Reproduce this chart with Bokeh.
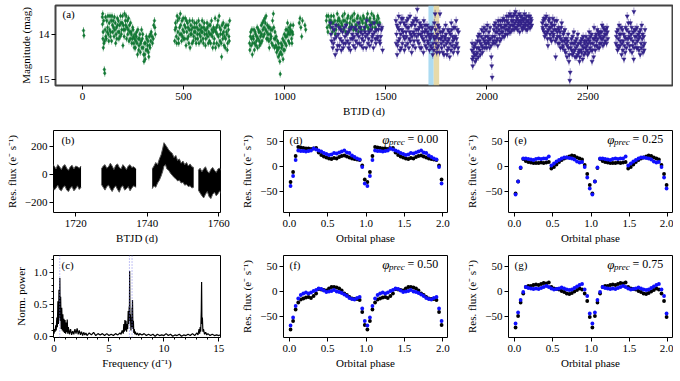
from bokeh.plotting import figure
from bokeh.layouts import column, row
from bokeh.models import Range1d, FixedTicker, CustomJSTickFormatter, Label, BoxAnnotation, Span
from bokeh.embed import file_html
from bokeh.resources import INLINE

FONT = "Liberation Serif, serif"
FS = "11px"

# ---------------- panel (a): long-term light curve (BTJD, mag) ----------------
GREEN_PTS = [
    (5, 13.92), (7, 14.03),
    (98, 13.62), (99, 13.78), (100, 13.55), (101, 14.1), (103, 14.3), (106, 14.2), (108, 14.78), (110, 14.86),
    (112, 13.9), (115, 14.05), (120, 13.7), (124, 13.85), (128, 14.0), (132, 13.75), (136, 13.6), (140, 13.95),
    (144, 14.15), (148, 13.8), (152, 13.7), (156, 14.05), (160, 13.9), (164, 14.2), (168, 13.85), (172, 13.65),
    (176, 13.95), (180, 14.1), (184, 13.8), (188, 13.6), (192, 14.0), (196, 13.75), (200, 14.25), (204, 13.9),
    (208, 13.55), (212, 13.7), (216, 13.6), (220, 13.85), (224, 14.0), (228, 13.65), (232, 13.8), (236, 14.1),
    (240, 13.95), (244, 14.2), (248, 13.85), (252, 14.05), (256, 14.3), (260, 14.0), (264, 14.15), (268, 13.95),
    (272, 14.45), (276, 14.1), (280, 14.25), (284, 14.0), (288, 14.2), (292, 13.9), (296, 14.1), (300, 14.3),
    (304, 14.6), (308, 14.45), (312, 14.2), (316, 14.05), (320, 14.35), (324, 14.15), (328, 14.5), (332, 14.25),
    (336, 14.0), (340, 13.95), (346, 14.2), (352, 13.8), (356, 13.7), (360, 14.0),
    (456, 14.15), (458, 13.9), (460, 13.75), (464, 14.05), (468, 13.6), (472, 13.95), (476, 14.2), (480, 13.85),
    (484, 13.55), (488, 14.0), (492, 13.7), (496, 13.9), (500, 14.1), (504, 13.8), (508, 13.65), (512, 14.25),
    (516, 13.95), (520, 13.75), (524, 14.05), (528, 13.9), (532, 14.3), (536, 13.8), (540, 14.0), (544, 13.7),
    (548, 14.15), (552, 13.95), (556, 13.85), (560, 14.1), (564, 13.75), (568, 14.0), (572, 13.9), (576, 14.2),
    (580, 13.8), (584, 14.05), (588, 13.95), (592, 13.7), (596, 14.1), (600, 13.85), (604, 14.0), (608, 14.25),
    (612, 13.9), (616, 13.75), (620, 14.05), (624, 13.95), (628, 14.15), (632, 13.8), (636, 14.0), (640, 13.9),
    (644, 14.3), (648, 13.85), (652, 14.1), (656, 13.65), (660, 13.95), (664, 14.2), (668, 13.8), (672, 14.05),
    (676, 13.6), (680, 14.15), (684, 13.9), (688, 14.5), (692, 14.0), (696, 13.75), (700, 14.25), (704, 13.85),
    (708, 14.1), (712, 13.95), (716, 14.35), (720, 13.8), (724, 14.05), (728, 13.7),
    (826, 14.2), (828, 14.35), (832, 13.95), (836, 14.1), (840, 14.45), (844, 14.05), (848, 13.9), (852, 14.2),
    (856, 14.0), (860, 14.15), (864, 13.85), (868, 14.1), (872, 13.95), (876, 14.25), (880, 14.05), (884, 13.8),
    (888, 14.15), (892, 13.9), (896, 13.7), (900, 14.0), (904, 13.75), (908, 13.6), (912, 13.95), (916, 14.1),
    (920, 13.85), (924, 14.3), (928, 14.0), (932, 13.9), (936, 14.2), (940, 13.7), (944, 13.55), (948, 14.1),
    (952, 13.95), (956, 14.25), (960, 14.4), (964, 14.15), (968, 14.5), (972, 14.3), (976, 14.6), (978, 14.88),
    (982, 14.2), (986, 14.45), (990, 14.1), (994, 14.35), (998, 14.0), (1002, 14.2), (1006, 13.9), (1010, 14.05),
    (1014, 13.75), (1018, 14.15), (1022, 13.85), (1026, 14.0), (1030, 13.8), (1034, 14.1), (1038, 13.95), (1042, 13.8),
    (1072, 13.75), (1076, 13.65), (1080, 13.85), (1084, 14.05), (1088, 13.7), (1100, 13.8), (1104, 13.9),
    (1206, 13.7), (1210, 13.85), (1216, 13.6), (1222, 13.7), (1226, 13.85), (1230, 13.6), (1236, 13.95),
    (1240, 13.75), (1246, 13.9), (1250, 14.0), (1256, 13.8), (1262, 13.7), (1268, 13.65), (1274, 13.85),
    (1280, 13.75), (1286, 13.6), (1292, 13.9), (1298, 13.7), (1304, 13.8), (1310, 13.65), (1316, 13.95),
    (1322, 13.75), (1328, 13.85), (1334, 13.6), (1340, 13.9), (1346, 13.7), (1352, 13.8), (1358, 13.65),
    (1364, 13.95), (1370, 13.75), (1376, 13.85), (1382, 13.7), (1388, 13.6), (1394, 13.9), (1400, 13.75),
    (1406, 13.65), (1412, 13.85), (1418, 13.7), (1424, 13.8), (1430, 13.55), (1436, 13.75), (1442, 13.65),
    (1448, 13.85), (1454, 13.7), (1460, 13.6), (1466, 13.8),
]
GREEN_PTS_MORE = [
    (102, 13.95), (105, 13.7), (110, 14.15), (114, 13.62), (118, 14.1), (122, 13.95), (126, 13.6), (130, 14.15),
    (134, 13.9), (138, 14.05), (142, 13.7), (146, 13.6), (150, 13.95), (154, 13.85), (158, 13.62), (162, 13.75),
    (166, 14.0), (170, 14.1), (174, 13.8), (178, 13.7), (182, 13.95), (186, 14.05), (190, 13.75), (194, 13.9),
    (198, 13.6), (202, 13.8), (206, 14.05), (210, 13.9), (214, 13.8), (218, 14.1), (222, 13.7), (226, 13.9),
    (230, 14.15), (234, 13.95), (238, 13.75), (242, 14.0), (246, 14.1), (250, 13.9), (254, 14.2), (258, 14.1),
    (262, 14.3), (266, 14.05), (270, 14.2), (274, 13.9), (278, 14.35), (282, 14.1), (286, 14.4), (290, 14.15),
    (294, 14.3), (298, 14.0), (302, 14.45), (306, 14.2), (310, 14.55), (314, 14.35), (318, 14.1), (322, 14.25),
    (326, 14.4), (330, 14.05), (334, 14.3), (338, 14.15), (344, 14.05), (350, 14.1), (358, 13.85),
    (462, 13.85), (466, 14.2), (470, 13.7), (474, 14.1), (478, 13.65), (482, 14.0), (486, 13.8), (490, 14.15),
    (494, 14.05), (498, 13.65), (502, 13.95), (506, 14.1), (510, 13.85), (514, 13.7), (518, 14.1), (522, 13.85),
    (526, 14.2), (530, 13.7), (534, 14.0), (538, 13.9), (542, 14.2), (546, 13.85), (550, 14.05), (554, 13.75),
    (558, 13.95), (562, 14.2), (566, 13.85), (570, 14.1), (574, 13.7), (578, 14.0), (582, 13.9), (586, 14.15),
    (590, 13.85), (594, 13.95), (598, 14.2), (602, 13.75), (606, 13.9), (610, 14.1), (614, 14.0), (618, 13.85),
    (622, 14.2), (626, 13.8), (630, 14.0), (634, 14.2), (638, 13.7), (642, 14.05), (646, 13.95), (650, 14.2),
    (654, 13.9), (658, 14.3), (662, 13.85), (666, 14.0), (670, 13.7), (674, 14.25), (678, 13.85), (682, 14.0),
    (686, 14.2), (690, 13.8), (694, 14.1), (698, 13.95), (702, 14.05), (706, 14.3), (710, 13.8), (714, 14.0),
    (718, 14.2), (722, 13.9), (726, 14.15),
    (830, 14.05), (834, 14.25), (838, 13.9), (842, 14.2), (846, 14.1), (850, 14.35), (854, 13.95), (858, 14.25),
    (862, 14.05), (866, 14.3), (870, 13.9), (874, 14.15), (878, 13.95), (882, 14.2), (886, 14.0), (890, 13.75),
    (894, 14.05), (898, 13.85), (902, 13.65), (906, 13.9), (910, 14.1), (914, 13.8), (918, 14.0), (922, 14.15),
    (926, 13.85), (930, 14.1), (934, 14.05), (938, 13.9), (942, 14.25), (946, 13.85), (950, 14.3), (954, 14.1),
    (958, 14.05), (962, 14.3), (966, 14.35), (970, 14.2), (974, 14.45), (980, 14.4), (984, 14.3), (988, 14.25),
    (992, 14.55), (996, 14.15), (1000, 14.35), (1004, 14.05), (1008, 14.25), (1012, 13.9), (1016, 14.0),
    (1020, 13.95), (1024, 14.2), (1028, 13.9), (1032, 13.95), (1036, 14.2), (1040, 14.0),
    (1208, 13.6), (1214, 13.95), (1220, 13.8), (1228, 13.7), (1234, 13.75), (1242, 13.6), (1248, 13.7),
    (1254, 13.9), (1260, 13.55), (1266, 13.8), (1272, 13.7), (1278, 13.9), (1284, 13.8), (1290, 13.7),
    (1296, 13.55), (1302, 13.95), (1308, 13.75), (1314, 13.6), (1320, 13.85), (1326, 13.65), (1332, 13.8),
    (1338, 13.7), (1344, 13.55), (1350, 13.9), (1356, 13.8), (1362, 13.6), (1368, 13.85), (1374, 13.65),
    (1380, 13.9), (1386, 13.75), (1392, 13.65), (1398, 13.85), (1404, 13.8), (1410, 13.55), (1416, 13.9),
    (1422, 13.65), (1428, 13.75), (1434, 13.85), (1440, 13.6), (1446, 13.75), (1452, 13.9), (1458, 13.75),
    (1464, 13.65), (1470, 13.75),
]

INDIGO_PTS = [
    (1226, 13.75), (1232, 14.15), (1238, 14.3), (1244, 13.9), (1250, 14.45), (1256, 14.05), (1262, 14.25),
    (1268, 13.85), (1274, 14.1), (1280, 14.35), (1286, 13.95), (1292, 14.2), (1298, 14.05), (1304, 13.8),
    (1310, 14.15), (1316, 14.3), (1322, 13.9), (1328, 14.1), (1334, 14.0), (1340, 14.25), (1346, 13.85),
    (1352, 14.15), (1358, 14.0), (1364, 13.75), (1370, 14.2), (1376, 13.95), (1382, 14.1), (1388, 14.3),
    (1394, 13.85), (1400, 14.05), (1406, 13.7), (1412, 14.2), (1418, 13.95), (1424, 13.8), (1430, 14.15),
    (1436, 14.0), (1442, 13.75), (1448, 14.1), (1454, 13.9), (1460, 14.05), (1466, 13.8), (1472, 14.2),
    (1478, 13.9), (1484, 14.35),
    (1550, 13.7), (1553, 14.0), (1556, 14.45), (1560, 13.85), (1564, 13.6), (1568, 14.1), (1572, 13.75),
    (1576, 14.3), (1580, 13.9), (1584, 13.65), (1588, 14.05), (1592, 14.35), (1596, 13.8), (1600, 13.95),
    (1604, 13.7), (1608, 14.2), (1612, 13.85), (1616, 14.1), (1620, 13.6), (1624, 14.0), (1628, 14.4),
    (1632, 13.75), (1636, 13.95), (1640, 14.15), (1644, 13.8), (1648, 13.65), (1652, 14.05), (1656, 13.45),
    (1660, 13.9), (1664, 14.2), (1668, 13.75), (1672, 14.0), (1676, 14.3), (1680, 13.85), (1684, 14.1),
    (1688, 13.7), (1692, 13.95), (1696, 14.25), (1700, 14.05), (1704, 13.8), (1708, 14.15), (1712, 14.0),
    (1716, 14.35), (1720, 14.1), (1724, 13.9), (1728, 14.3), (1732, 14.45), (1736, 14.05), (1740, 13.75),
    (1744, 13.55), (1748, 14.2), (1752, 14.4), (1756, 14.0), (1760, 14.25), (1764, 13.85), (1768, 13.55),
    (1772, 14.1), (1776, 14.3), (1780, 13.95), (1784, 14.15), (1788, 14.45), (1792, 14.05), (1796, 13.8),
    (1800, 14.2), (1804, 14.35), (1808, 13.9), (1812, 14.1), (1816, 14.5), (1820, 14.0), (1824, 13.75),
    (1828, 14.25), (1832, 14.15), (1836, 13.85), (1840, 14.3), (1844, 14.05), (1848, 13.7), (1852, 14.2),
    (1856, 14.4), (1860, 13.95),
    (1926, 14.35), (1928, 14.55), (1930, 14.7), (1934, 14.4), (1938, 14.25), (1942, 14.6), (1946, 14.45),
    (1950, 14.3), (1954, 14.15), (1958, 14.5), (1962, 14.0), (1966, 14.35), (1970, 14.2), (1974, 13.9),
    (1978, 14.4), (1982, 14.1), (1986, 13.85), (1990, 14.3), (1994, 14.05), (1998, 14.2), (2002, 13.8),
    (2006, 14.15), (2010, 13.95), (2014, 14.3), (2018, 14.1), (2022, 14.5), (2026, 14.95), (2030, 14.2),
    (2034, 13.9), (2038, 14.05), (2042, 13.75), (2046, 14.15), (2050, 13.95), (2054, 14.25), (2058, 13.8),
    (2062, 14.0), (2066, 13.7), (2070, 14.1), (2074, 13.85), (2078, 13.95), (2082, 13.65), (2086, 14.05),
    (2090, 13.8), (2094, 13.9), (2098, 13.6), (2102, 14.0), (2106, 13.75), (2110, 13.85), (2114, 13.55),
    (2118, 13.95), (2122, 13.7), (2126, 13.8), (2130, 13.6), (2134, 13.9), (2138, 13.75), (2142, 13.5),
    (2146, 13.85), (2150, 13.65), (2154, 13.8), (2158, 13.7), (2162, 13.95), (2166, 13.6), (2170, 13.75),
    (2174, 13.85), (2178, 13.65), (2182, 13.8), (2186, 13.55), (2190, 13.75), (2194, 13.9), (2198, 13.7),
    (2202, 13.8), (2206, 13.6), (2210, 13.85), (2214, 13.75), (2218, 13.65), (2222, 13.8),
    (2274, 13.75), (2278, 13.9), (2282, 13.65), (2286, 14.05), (2290, 13.8), (2294, 13.6), (2298, 13.95),
    (2302, 14.25), (2306, 13.7), (2310, 13.85), (2314, 14.1), (2318, 13.75), (2322, 13.95), (2326, 13.65),
    (2330, 14.0), (2334, 13.8), (2338, 14.15), (2340, 14.5), (2342, 13.9), (2346, 13.7), (2350, 14.05),
    (2354, 13.85), (2358, 14.2), (2362, 13.95), (2366, 14.1), (2370, 13.75), (2374, 14.3), (2378, 14.0),
    (2382, 14.15), (2386, 13.9), (2390, 14.4), (2394, 14.1), (2398, 14.25), (2402, 14.0), (2406, 14.6),
    (2410, 15.02), (2412, 14.84), (2414, 14.3), (2418, 14.1), (2422, 14.45), (2426, 14.2), (2430, 13.95),
    (2434, 14.35), (2438, 14.15), (2442, 14.5), (2446, 14.25), (2450, 14.0), (2454, 14.4), (2458, 14.6),
    (2462, 14.2), (2466, 14.35), (2470, 14.1), (2474, 14.55), (2478, 14.3), (2482, 14.15), (2486, 14.4),
    (2490, 14.05), (2494, 14.25), (2498, 14.45), (2502, 14.1), (2506, 13.95), (2510, 14.3), (2514, 14.2),
    (2518, 14.0), (2520, 14.6), (2522, 14.35), (2526, 14.1), (2528, 14.5), (2530, 13.85), (2534, 14.25),
    (2538, 14.05), (2542, 14.15), (2546, 13.9), (2550, 14.3), (2554, 14.0), (2558, 14.2), (2562, 13.95),
    (2566, 14.1), (2570, 13.8), (2574, 14.25), (2578, 14.05), (2582, 13.9), (2586, 14.15), (2590, 14.0),
    (2594, 13.85), (2598, 14.1),
    (2638, 14.2), (2642, 13.95), (2646, 14.35), (2650, 14.1), (2654, 13.8), (2658, 14.25), (2662, 14.0),
    (2666, 14.45), (2670, 13.9), (2674, 14.15), (2678, 14.55), (2682, 14.05), (2686, 13.85), (2690, 14.3),
    (2694, 13.6), (2698, 14.1), (2702, 13.95), (2706, 14.25), (2710, 13.75), (2714, 14.0), (2718, 14.4),
    (2722, 14.15), (2726, 14.55), (2727, 13.5), (2730, 13.9), (2734, 14.2), (2738, 14.05), (2742, 13.85),
    (2746, 14.3), (2750, 14.1), (2754, 13.95), (2758, 14.45), (2762, 14.2), (2766, 13.8), (2770, 14.0),
    (2774, 14.25), (2778, 14.35), (2782, 13.9),
]
INDIGO_PTS_MORE = [
    (1229, 14.0), (1235, 13.85), (1241, 14.2), (1247, 14.1), (1253, 13.8), (1259, 14.35), (1265, 14.0),
    (1271, 14.25), (1277, 13.9), (1283, 14.15), (1289, 14.3), (1295, 13.85), (1301, 14.2), (1307, 14.0),
    (1313, 13.95), (1319, 14.2), (1325, 14.35), (1331, 13.85), (1337, 14.1), (1343, 14.05), (1349, 14.3),
    (1355, 13.9), (1361, 14.2), (1367, 14.05), (1373, 13.85), (1379, 14.25), (1385, 14.0), (1391, 14.15),
    (1397, 13.95), (1403, 14.3), (1409, 14.0), (1415, 14.1), (1421, 14.25), (1427, 13.9), (1433, 14.05),
    (1439, 14.3), (1445, 13.95), (1451, 14.2), (1457, 14.1), (1463, 13.9), (1469, 14.15), (1475, 14.05),
    (1481, 13.85),
    (1551, 14.2), (1555, 13.8), (1558, 14.25), (1562, 14.15), (1566, 13.9), (1570, 14.35), (1574, 14.0),
    (1578, 13.65), (1582, 14.2), (1586, 13.95), (1590, 13.75), (1594, 14.1), (1598, 14.25), (1602, 14.05),
    (1606, 13.85), (1610, 13.65), (1614, 14.3), (1618, 13.95), (1622, 14.15), (1626, 13.8), (1630, 14.05),
    (1634, 14.25), (1638, 13.7), (1642, 14.0), (1646, 14.3), (1650, 13.9), (1654, 13.7), (1658, 14.15),
    (1662, 14.0), (1666, 13.85), (1670, 14.3), (1674, 13.8), (1678, 14.05), (1682, 13.95), (1686, 14.4),
    (1690, 14.15), (1694, 13.8), (1698, 13.9), (1702, 14.3), (1706, 13.95), (1710, 14.2), (1714, 13.85),
    (1718, 14.05), (1722, 14.25), (1726, 14.0), (1730, 13.85), (1734, 14.2), (1738, 14.35), (1742, 14.1),
    (1746, 13.9), (1750, 14.05), (1754, 14.3), (1758, 13.8), (1762, 14.1), (1766, 14.4), (1770, 13.95),
    (1774, 14.2), (1778, 14.05), (1782, 14.4), (1786, 13.9), (1790, 14.25), (1794, 14.1), (1798, 14.0),
    (1802, 14.45), (1806, 14.15), (1810, 14.3), (1814, 13.95), (1818, 14.2), (1822, 14.35), (1826, 13.9),
    (1830, 14.05), (1834, 14.4), (1838, 14.1), (1842, 13.85), (1846, 14.25), (1850, 14.1), (1854, 13.9),
    (1858, 14.3),
    (1927, 14.2), (1932, 14.5), (1936, 14.3), (1940, 14.45), (1944, 14.2), (1948, 14.55), (1952, 14.4),
    (1956, 14.05), (1960, 14.3), (1964, 14.15), (1968, 14.45), (1972, 14.05), (1976, 14.25), (1980, 14.3),
    (1984, 13.95), (1988, 14.15), (1992, 14.2), (1996, 13.9), (2000, 14.3), (2004, 14.05), (2008, 14.2),
    (2012, 14.1), (2016, 13.85), (2020, 14.25), (2024, 14.7), (2028, 14.05), (2032, 14.15), (2036, 13.8),
    (2040, 14.2), (2044, 13.95), (2048, 13.85), (2052, 14.1), (2056, 13.7), (2060, 13.9), (2064, 14.15),
    (2068, 13.8), (2072, 13.95), (2076, 13.7), (2080, 14.05), (2084, 13.85), (2088, 13.7), (2092, 14.0),
    (2096, 13.8), (2100, 13.7), (2104, 13.9), (2108, 13.6), (2112, 13.95), (2116, 13.8), (2120, 13.6),
    (2124, 13.9), (2128, 13.7), (2132, 13.8), (2136, 13.55), (2140, 13.85), (2144, 13.7), (2148, 13.6),
    (2152, 13.9), (2156, 13.75), (2160, 13.55), (2164, 13.8), (2168, 13.7), (2172, 13.6), (2176, 13.9),
    (2180, 13.7), (2184, 13.85), (2188, 13.65), (2192, 13.8), (2196, 13.6), (2200, 13.9), (2204, 13.7),
    (2208, 13.75), (2212, 13.6), (2216, 13.85), (2220, 13.7),
    (2276, 13.85), (2280, 13.7), (2284, 13.95), (2288, 13.65), (2292, 14.0), (2296, 13.8), (2300, 14.1),
    (2304, 13.9), (2308, 13.65), (2312, 14.0), (2316, 13.85), (2320, 14.15), (2324, 13.8), (2328, 14.05),
    (2332, 13.9), (2336, 13.7), (2344, 14.1), (2348, 13.95), (2352, 14.2), (2356, 13.9), (2360, 14.05),
    (2364, 14.3), (2368, 13.85), (2372, 14.15), (2376, 14.25), (2380, 13.95), (2384, 14.35), (2388, 14.1),
    (2392, 14.2), (2396, 14.5), (2400, 14.15), (2404, 14.3), (2408, 14.45), (2416, 14.2), (2420, 14.35),
    (2424, 14.05), (2428, 14.4), (2432, 14.2), (2436, 14.5), (2440, 14.3), (2444, 14.1), (2448, 14.45),
    (2452, 14.2), (2456, 14.35), (2460, 14.5), (2464, 14.15), (2468, 14.4), (2472, 14.25), (2476, 14.05),
    (2480, 14.45), (2484, 14.2), (2488, 14.3), (2492, 14.15), (2496, 14.35), (2500, 14.2), (2504, 14.4),
    (2508, 14.15), (2512, 14.05), (2516, 14.35), (2524, 14.2), (2532, 14.1), (2536, 14.35), (2540, 14.0),
    (2544, 14.25), (2548, 14.1), (2552, 13.95), (2556, 14.3), (2560, 14.05), (2564, 14.2), (2568, 13.95),
    (2572, 14.1), (2576, 13.85), (2580, 14.2), (2584, 14.0), (2588, 13.9), (2592, 14.2), (2596, 13.95),
    (2640, 14.05), (2644, 14.25), (2648, 13.9), (2652, 14.3), (2656, 14.0), (2660, 14.15), (2664, 13.85),
    (2668, 14.2), (2672, 14.35), (2676, 14.0), (2680, 14.25), (2684, 14.4), (2688, 14.1), (2692, 13.9),
    (2696, 14.2), (2700, 13.75), (2704, 14.05), (2708, 14.35), (2712, 14.1), (2716, 13.85), (2720, 14.25),
    (2724, 13.95), (2728, 14.3), (2732, 14.05), (2736, 13.9), (2740, 14.3), (2744, 14.15), (2748, 14.0),
    (2752, 14.35), (2756, 14.05), (2760, 13.9), (2764, 14.3), (2768, 14.1), (2772, 14.4), (2776, 14.05),
    (2780, 14.2),
]
GREEN_ERR = 0.08
INDIGO_ERR = 0.09
SECTOR_EDGES = [1711, 1737, 1764]
A_XTICKS = [0, 500, 1000, 1500, 2000, 2500]
A_YTICKS = [14, 15]

# ---------------- panel (b): residual flux envelopes (BTJD, e-/s) ----------------
B1_T = [1711.6, 1712, 1712.5, 1713, 1713.5, 1714, 1714.5, 1715, 1715.5, 1716, 1716.5, 1717, 1717.5, 1718,
        1718.5, 1719, 1719.5, 1720, 1720.5, 1721, 1721.5]
B1_HI = [80, 90, 60, 55, 75, 60, 40, 70, 55, 35, 60, 70, 45, 30, 55, 65, 40, 60, 55, 45, 60]
B1_LO = [-60, -80, -100, -70, -85, -110, -95, -75, -105, -115, -90, -80, -110, -120, -95, -85, -115, -100,
         -80, -105, -90]
B2_T = [1727.2, 1727.7, 1728.2, 1728.7, 1729.2, 1729.7, 1730.2, 1730.7, 1731.2, 1731.7, 1732.2, 1732.7,
        1733.2, 1733.7, 1734.2, 1734.7, 1735.2, 1735.7, 1736.2, 1736.9]
B2_HI = [40, 60, 70, 45, 55, 80, 60, 35, 65, 75, 50, 40, 70, 55, 35, 60, 70, 50, 55, 40]
B2_LO = [-70, -90, -110, -85, -75, -100, -120, -95, -80, -105, -125, -90, -80, -110, -100, -85, -115, -95,
         -80, -90]
B3_T = [1741.4, 1741.9, 1742.4, 1742.9, 1743.4, 1743.9, 1744.3, 1744.7, 1745.1, 1745.5, 1746.0, 1746.5,
        1747.0, 1747.5, 1748.0, 1748.5, 1749.0, 1749.5, 1750.0, 1750.5, 1751.0, 1751.5, 1752.0, 1752.5, 1753.0]
B3_HI = [40, 60, 85, 70, 110, 140, 180, 225, 210, 195, 175, 160, 150, 120, 135, 100, 110, 80, 95, 70, 85,
         60, 75, 55, 50]
B3_LO = [-100, -80, -90, -60, -40, -10, 20, 60, 70, 40, 30, 10, -5, -20, -30, -45, -40, -60, -55, -75, -70,
         -85, -80, -95, -90]
B4_T = [1754.3, 1754.8, 1755.3, 1755.8, 1756.3, 1756.8, 1757.3, 1757.8, 1758.3, 1758.8, 1759.3, 1759.8,
        1760.3, 1760.8]
B4_HI = [30, 45, 20, 40, 55, 25, 10, 35, 50, 30, 15, 40, 45, 25]
B4_LO = [-110, -130, -150, -165, -140, -120, -155, -170, -140, -125, -150, -135, -115, -140]
B_XTICKS = [1720, 1740, 1760]
B_YTICKS = [-200, 0, 200]

# ---------------- panel (c): periodogram ----------------
FREQ = [0.0, 0.05, 0.1, 0.15, 0.2, 0.25, 0.3, 0.35, 0.4, 0.45, 0.5, 0.53, 0.56, 0.6, 0.65, 0.7, 0.75, 0.8,
        0.85, 0.9, 0.95, 1.0, 1.05, 1.1, 1.15, 1.2, 1.25, 1.3, 1.4, 1.5, 1.6, 1.7, 1.8, 1.9, 2.0, 2.1, 2.2,
        2.3, 2.4, 2.5, 2.6, 2.7, 2.8, 2.9, 3.0, 3.2, 3.4, 3.6, 3.8, 4.0, 4.2, 4.4, 4.6, 4.8, 5.0, 5.2, 5.4,
        5.6, 5.8, 6.0, 6.1, 6.2, 6.3, 6.35, 6.4, 6.45, 6.5, 6.55, 6.6, 6.65, 6.7, 6.75, 6.8, 6.84, 6.86,
        6.88, 6.91, 6.95, 7.0, 7.04, 7.08, 7.1, 7.12, 7.14, 7.18, 7.22, 7.26, 7.3, 7.35, 7.4, 7.5, 7.6, 7.7,
        7.8, 8.0, 8.2, 8.4, 8.6, 8.8, 9.0, 9.2, 9.4, 9.6, 9.8, 10.0, 10.2, 10.4, 10.6, 10.8, 11.0, 11.2,
        11.4, 11.6, 11.8, 12.0, 12.2, 12.4, 12.6, 12.8, 13.0, 13.1, 13.2, 13.25, 13.3, 13.35, 13.4, 13.43,
        13.46, 13.5, 13.55, 13.6, 13.7, 13.8, 13.9, 14.0, 14.2, 14.4, 14.6, 14.8, 15.0, 15.15]
POWER = [0.05, 0.12, 0.08, 0.18, 0.1, 0.3, 0.15, 0.55, 0.2, 0.73, 0.3, 0.91, 0.25, 0.62, 0.12, 0.45, 0.1,
         0.35, 0.08, 0.28, 0.06, 0.26, 0.05, 0.22, 0.07, 0.27, 0.05, 0.15, 0.04, 0.12, 0.03, 0.09, 0.04, 0.12,
         0.05, 0.13, 0.04, 0.1, 0.03, 0.08, 0.02, 0.07, 0.03, 0.06, 0.02, 0.06, 0.03, 0.07, 0.02, 0.05, 0.03,
         0.05, 0.02, 0.05, 0.02, 0.04, 0.02, 0.05, 0.03, 0.06, 0.04, 0.1, 0.05, 0.2, 0.08, 0.26, 0.1, 0.25,
         0.08, 0.2, 0.12, 0.4, 0.2, 0.47, 0.3, 1.02, 0.25, 0.35, 0.1, 0.3, 0.15, 0.45, 0.2, 0.57, 0.12, 0.25,
         0.06, 0.12, 0.04, 0.08, 0.03, 0.06, 0.02, 0.05, 0.03, 0.05, 0.02, 0.04, 0.02, 0.04, 0.01, 0.04, 0.02,
         0.03, 0.02, 0.05, 0.02, 0.04, 0.01, 0.03, 0.02, 0.04, 0.01, 0.03, 0.02, 0.04, 0.02, 0.05, 0.02, 0.06,
         0.03, 0.12, 0.05, 0.15, 0.08, 0.4, 0.85, 0.2, 0.3, 0.08, 0.12, 0.04, 0.07, 0.03, 0.05, 0.02, 0.04,
         0.02, 0.03, 0.02, 0.03]
FREQ_MARKS = [0.52, 6.86, 7.1]
C_XTICKS = [0, 5, 10, 15]
C_XMINOR = [0, 1, 2, 3, 4, 5, 6, 7, 8, 9, 10, 11, 12, 13, 14, 15]
C_YTICKS = [0.0, 0.5, 1.0]
C_YMINOR = [0.0, 0.1, 0.2, 0.3, 0.4, 0.5, 0.6, 0.7, 0.8, 0.9, 1.0, 1.1, 1.2]

# ---------------- panels (d)-(g): phase-folded residual flux ----------------
PHASE = [0.017, 0.05, 0.083, 0.117, 0.15, 0.183, 0.217, 0.25, 0.283, 0.317, 0.35, 0.383, 0.417, 0.45,
         0.483, 0.517, 0.55, 0.583, 0.617, 0.65, 0.683, 0.717, 0.75, 0.783, 0.817, 0.85, 0.883, 0.917,
         0.95, 0.983]
D_BLACK = [-32, -12, 20, 38, 37, 36, 35, 35, 34, 35, 36, 27, 22, 19, 17, 15, 14, 16, 15, 18, 20, 21, 19,
           17, 15, 14, 13, 12, 1, -27]
D_BLUE = [-40, -20, 12, 31, 30, 30, 29, 30, 31, 35, 33, 31, 29, 26, 24, 22, 23, 26, 25, 27, 29, 31, 27,
          26, 21, 18, 15, 13, -2, -35]
E_BLACK = [-55, -31, -4, 14, 10, 8, 7, 6, 6, 6, 7, 6, 7, 8, -5, -2, 3, 8, 12, 15, 17, 19, 21, 20, 17, 15,
           13, 2, -16, -38]
E_BLUE = [-57, -31, -3, 15, 15, 14, 13, 12, 14, 15, 14, 15, 15, 19, 1, 5, 9, 12, 15, 17, 17, 16, 15, 13,
          9, 7, 8, -2, -23, -45]
F_BLACK = [-77, -60, -37, -23, -17, -15, -13, -12, -14, -10, -5, 4, 3, 2, 1, 5, 8, 8, 7, 5, 1, -5, -8,
           -12, -15, -16, -16, -18, -42, -68]
F_BLUE = [-69, -53, -30, -15, -8, -5, -3, -5, -3, 0, 2, 5, 4, 1, -2, -1, 0, 2, -1, -2, -4, -7, -10, -14,
          -16, -17, -14, -12, -35, -60]
G_BLACK = [-73, -50, -23, -5, 8, 10, 10, 12, 13, 12, 14, 16, 15, 17, 8, 5, 4, 3, 0, -2, -5, -6, -4, -1,
           2, 5, 3, -5, -20, -52]
G_BLUE = [-65, -43, -18, -2, 8, 6, 5, 4, 5, 4, 6, 8, 10, 8, 5, 3, 4, 5, 7, 5, 3, 2, 3, 6, 9, 12, 14, 3,
          -10, -45]
PREC_LABELS = ["0.00", "0.25", "0.50", "0.75"]
PH_XTICKS = [0.0, 0.5, 1.0, 1.5, 2.0]
PH_YTICKS = [-50, 0, 50]

GREEN = "#117733"
INDIGO = "#332288"

MINUS_FMT = CustomJSTickFormatter(code="return (tick < 0 ? '\\u2212' : '') + Math.abs(tick).toString();")
ONE_DEC_FMT = CustomJSTickFormatter(code="return (tick < 0 ? '\\u2212' : '') + Math.abs(tick).toFixed(1);")


def mkfig(w, h, l, r, t, b, xr, yr):
    p = figure(width=w, height=h, x_range=Range1d(*xr), y_range=Range1d(*yr),
               output_backend="svg", toolbar_location=None,
               min_border_left=l, min_border_right=r, min_border_top=t, min_border_bottom=b)
    p.xgrid.visible = False
    p.ygrid.visible = False
    p.outline_line_color = "black"
    p.outline_line_width = 1
    p.outline_line_alpha = 1
    p.background_fill_color = "white"
    p.border_fill_color = "white"
    for ax in (p.xaxis[0], p.yaxis[0]):
        ax.axis_line_color = None
        ax.major_tick_out = 4
        ax.major_tick_in = 0
        ax.minor_tick_out = 0
        ax.minor_tick_in = 0
        ax.major_tick_line_color = "black"
        ax.major_label_text_font = FONT
        ax.major_label_text_font_size = FS
        ax.major_label_text_color = "black"
        ax.axis_label_text_font = FONT
        ax.axis_label_text_font_size = FS
        ax.axis_label_text_font_style = "normal"
        ax.axis_label_text_color = "black"
    p.xaxis.major_label_standoff = 3
    p.xaxis.axis_label_standoff = 2
    p.yaxis.major_label_standoff = 2
    p.yaxis.axis_label_standoff = 4
    return p


def put(p, fw, fh, dx, dy, text, size="11px", style="normal", align="left"):
    xr, yr = p.x_range, p.y_range
    x = xr.start + dx / fw * (xr.end - xr.start)
    y = yr.end - dy / fh * (yr.end - yr.start)
    p.add_layout(Label(x=x, y=y, text=text, text_font=FONT, text_font_size=size, text_font_style=style,
                       text_baseline="middle", text_align=align, text_color="black"))


# ---------------- (a) ----------------
pa = mkfig(673, 120, 55, 1, 1, 39, (-133.5, 2918), (15.132, 13.366))
pa.outline_line_color = "#444444"
pa.outline_line_width = 2
pa.xaxis.ticker = FixedTicker(ticks=A_XTICKS)
pa.yaxis.ticker = FixedTicker(ticks=A_YTICKS)
pa.xaxis.axis_label = "BTJD (d)"
pa.yaxis.axis_label = "Magnitude (mag)"
pa.add_layout(BoxAnnotation(left=SECTOR_EDGES[0], right=SECTOR_EDGES[1], fill_color="#9dd5f0",
                            fill_alpha=0.85, line_color=None, level="underlay"))
pa.add_layout(BoxAnnotation(left=SECTOR_EDGES[1], right=SECTOR_EDGES[2], fill_color="#e3d39a",
                            fill_alpha=0.85, line_color=None, level="underlay"))
for pts, col, err, mk, sz in ((GREEN_PTS + GREEN_PTS_MORE, GREEN, GREEN_ERR, "diamond", 4),
                              (INDIGO_PTS + INDIGO_PTS_MORE, INDIGO, INDIGO_ERR, "inverted_triangle", 4)):
    t = [q[0] for q in pts]
    m = [q[1] for q in pts]
    pa.segment(x0=t, y0=[v - err for v in m], x1=t, y1=[v + err for v in m], line_color=col,
               line_alpha=0.45, line_width=1)
    pa.scatter(x=t, y=m, marker=mk, size=sz, fill_color=col, line_color=col, line_width=0.5)
put(pa, 617, 80, 7, 8, "(a)")

# ---------------- (b) ----------------
pb = mkfig(232, 127, 53, 12, 6, 39, (1713.8, 1760.5), (-268, 311))
pb.xaxis.ticker = FixedTicker(ticks=B_XTICKS)
pb.yaxis.ticker = FixedTicker(ticks=B_YTICKS)
pb.yaxis.formatter = MINUS_FMT
pb.xaxis.axis_label = "BTJD (d)"
pb.yaxis.axis_label = "Res. flux (e\u207b s\u207b\u00b9)"
for bt, bh, bl in ((B1_T, B1_HI, B1_LO), (B2_T, B2_HI, B2_LO), (B3_T, B3_HI, B3_LO), (B4_T, B4_HI, B4_LO)):
    pb.varea(x=bt, y1=bl, y2=bh, fill_color="black", fill_alpha=1)
    pb.line(x=bt, y=bh, line_color="#555555", line_width=1)
    pb.line(x=bt, y=bl, line_color="#555555", line_width=1)
put(pb, 167, 82, 8, 9, "(b)")

# ---------------- (c) ----------------
pc = mkfig(232, 125, 53, 12, 4, 39, (-0.05, 15.15), (-0.01, 1.26))
pc.xaxis.ticker = FixedTicker(ticks=C_XTICKS, minor_ticks=C_XMINOR)
pc.yaxis.ticker = FixedTicker(ticks=C_YTICKS, minor_ticks=C_YMINOR)
pc.yaxis.formatter = ONE_DEC_FMT
for ax in (pc.xaxis[0], pc.yaxis[0]):
    ax.minor_tick_out = 2
    ax.minor_tick_line_color = "black"
pc.xaxis.axis_label = "Frequency (d\u207b\u00b9)"
pc.yaxis.axis_label = "Norm. power"
for fm in FREQ_MARKS:
    pc.add_layout(Span(location=fm, dimension="height", line_color="#7b7bea", line_dash="1 2",
                       line_width=1, line_alpha=0.9))
pc.line(x=FREQ, y=POWER, line_color="black", line_width=1.2)
put(pc, 167, 82, 8, 9, "(c)")

# ---------------- (d)-(g) ----------------
def phase_panel(w, h, l, r, t, b, black, blue, tag, prec):
    p = mkfig(w, h, l, r, t, b, (-0.075, 2.06), (-93, 71))
    fw = w - l - r
    fh = h - t - b
    p.xaxis.ticker = FixedTicker(ticks=PH_XTICKS)
    p.yaxis.ticker = FixedTicker(ticks=PH_YTICKS)
    p.xaxis.formatter = ONE_DEC_FMT
    p.yaxis.formatter = MINUS_FMT
    p.xaxis.axis_label = "Orbital phase"
    p.yaxis.axis_label = "Res. flux (e\u207b s\u207b\u00b9)"
    xs = PHASE + [v + 1 for v in PHASE]
    p.scatter(x=xs, y=black + black, marker="circle", size=3.8, fill_color="black", line_color=None)
    p.scatter(x=xs, y=blue + blue, marker="circle", size=3.8, fill_color="#1010ff", line_color=None)
    put(p, fw, fh, 6, 9, tag)
    put(p, fw, fh, 98.7, 8.5, "\u03c6", size="13px", style="italic")
    put(p, fw, fh, 105.5, 11.5, "prec", size="9px", style="italic")
    put(p, fw, fh, 124, 8.5, "= " + prec, size="12px")
    return p

pd_ = phase_panel(226, 127, 51, 11, 6, 39, D_BLACK, D_BLUE, "(d)", PREC_LABELS[0])
pe_ = phase_panel(215, 127, 50, 1, 6, 39, E_BLACK, E_BLUE, "(e)", PREC_LABELS[1])
pf_ = phase_panel(226, 125, 51, 11, 4, 39, F_BLACK, F_BLUE, "(f)", PREC_LABELS[2])
pg_ = phase_panel(215, 125, 50, 1, 4, 39, G_BLACK, G_BLUE, "(g)", PREC_LABELS[3])

layout = column(pa, row(pb, pd_, pe_), row(pc, pf_, pg_), margin=(4, 0, 0, 0))
html = file_html(layout, INLINE)
open("out.html", "w").write(html)
